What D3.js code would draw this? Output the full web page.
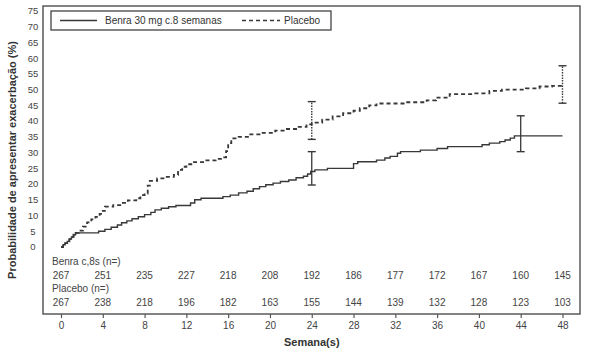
<!DOCTYPE html>
<html>
<head>
<meta charset="utf-8">
<script src="https://cdn.jsdelivr.net/npm/d3@7/dist/d3.min.js"></script>
<style>
  html, body { margin: 0; padding: 0; background: #fff; }
  svg { display: block; font-family: "Liberation Sans", Arial, sans-serif; }
</style>
</head>
<body>
<svg id="chart" width="589" height="350"></svg>
<script>
// Kaplan-Meier style cumulative probability of exacerbation (%), step points [week, %]
const benraSteps = [
  [0, 0], [0.2, 0.7], [0.4, 1.2], [0.6, 1.8], [0.8, 2.5], [1.0, 3.2], [1.2, 3.9], [1.4, 4.5],
  [3.6, 5.0], [4.2, 5.6], [4.8, 6.3], [5.4, 7.0], [5.8, 7.7], [6.3, 8.3], [6.8, 9.0], [7.4, 9.6],
  [8.0, 10.3], [8.6, 11.0], [9.0, 11.8], [9.6, 12.3], [10.3, 12.8], [11.0, 13.2], [12.4, 14.0],
  [12.8, 15.0], [13.4, 15.5], [15.5, 16.0], [16.2, 16.5], [17.0, 17.2], [17.8, 17.7], [18.4, 18.5],
  [19.0, 19.2], [19.6, 19.8], [20.3, 20.3], [21.0, 20.8], [21.8, 21.3], [22.5, 22.0], [23.2, 22.5],
  [23.6, 23.2], [23.9, 24.0], [24.3, 24.5], [25.5, 25.0], [28.0, 26.5], [28.4, 27.1], [30.2, 27.6],
  [31.0, 28.3], [31.5, 28.8], [32.2, 29.8], [32.5, 30.3], [34.4, 30.8], [36.0, 31.3], [37.0, 31.9],
  [40.3, 32.5], [41.0, 33.0], [42.0, 33.5], [42.5, 34.0], [43.0, 34.6], [43.4, 35.3], [48, 35.3]
];
const placeboSteps = [
  [0, 0], [0.2, 0.7], [0.4, 1.2], [0.6, 1.8], [0.8, 2.5], [1.0, 3.2], [1.2, 3.9], [1.4, 4.5],
  [1.7, 5.2], [2.1, 6.5], [2.5, 7.8], [2.9, 8.8], [3.3, 9.6], [3.7, 10.5], [4.0, 11.5], [4.2, 12.8],
  [5.0, 13.3], [5.8, 14.0], [6.4, 14.8], [7.2, 15.5], [7.6, 16.5], [8.0, 17.0], [8.3, 19.5],
  [8.5, 21.0], [9.2, 21.8], [10.0, 22.3], [10.8, 22.9], [11.2, 24.5], [11.6, 25.5], [12.0, 26.3],
  [12.6, 27.0], [13.8, 27.5], [14.8, 28.0], [15.4, 28.5], [15.8, 30.5], [16.0, 33.0], [16.3, 34.5],
  [17.0, 35.0], [18.0, 35.8], [19.0, 36.3], [20.5, 37.0], [21.5, 37.5], [22.5, 38.2], [23.5, 39.0],
  [24.0, 39.5], [25.0, 40.5], [26.0, 41.5], [27.0, 42.5], [28.0, 43.3], [28.6, 44.1], [29.5, 45.0],
  [30.2, 45.6], [33.0, 46.0], [35.0, 46.6], [35.9, 47.5], [37.2, 48.6], [39.5, 48.8], [41.0, 49.6],
  [42.2, 50.0], [44.5, 50.4], [45.8, 51.0], [47.0, 51.2], [48, 51.2]
];

// 95% confidence intervals at selected weeks: [week, estimate, lower, upper]
const benraCI = [[24, 24.5, 19.7, 30.3], [44, 35.3, 30.3, 41.7]];
const placeboCI = [[24, 39.6, 34.2, 46.2], [48, 51.2, 45.7, 57.6]];

// Number at risk
const riskWeeks = [0, 4, 8, 12, 16, 20, 24, 28, 32, 36, 40, 44, 48];
const benraAtRisk = [267, 251, 235, 227, 218, 208, 192, 186, 177, 172, 167, 160, 145];
const placeboAtRisk = [267, 238, 218, 196, 182, 163, 155, 144, 139, 132, 128, 123, 103];

const xTicks = [0, 4, 8, 12, 16, 20, 24, 28, 32, 36, 40, 44, 48];
const yTicks = [0, 5, 10, 15, 20, 25, 30, 35, 40, 45, 50, 55, 60, 65, 70, 75];

const labels = {
  benra: "Benra 30 mg c.8 semanas",
  placebo: "Placebo",
  benraRisk: "Benra c,8s (n=)",
  placeboRisk: "Placebo (n=)",
  xTitle: "Semana(s)",
  yTitle: "Probabilidade de apresentar exacerbação (%)"
};

const svg = d3.select("#chart");
const frame = { left: 43, right: 580, top: 6, bottom: 314 };

const x = d3.scaleLinear().domain([0, 48]).range([61, 562.5]);
const y = d3.scaleLinear().domain([0, 75]).range([247, 11]);

const ink = "#383838";
const textInk = "#444";

// Plot frame
svg.append("rect")
  .attr("x", frame.left).attr("y", frame.top)
  .attr("width", frame.right - frame.left).attr("height", frame.bottom - frame.top)
  .attr("fill", "none").attr("stroke", "#5a5a5a").attr("stroke-width", 1.5);

// Y tick labels (no tick marks)
svg.append("g").selectAll("text").data(yTicks).join("text")
  .attr("x", 33).attr("y", d => y(d)).attr("dy", "0.35em")
  .attr("text-anchor", "middle").attr("font-size", 9.5).attr("fill", textInk)
  .text(d => d);

// X axis below the frame
const xAxis = d3.axisBottom(x).tickValues(xTicks).tickSize(4).tickPadding(4).tickSizeOuter(0);
const gx = svg.append("g").attr("transform", `translate(0,${frame.bottom})`).call(xAxis);
gx.select(".domain").remove();
gx.selectAll(".tick line").attr("stroke", "#555").attr("stroke-width", 1.2);
gx.selectAll(".tick text").attr("font-size", 10).attr("fill", textInk)
  .attr("font-family", "Liberation Sans, Arial, sans-serif");

// Axis titles
svg.append("text").attr("x", x(24)).attr("y", 346)
  .attr("text-anchor", "middle").attr("font-size", 11).attr("font-weight", "bold").attr("fill", "#333")
  .text(labels.xTitle);
svg.append("text")
  .attr("transform", `translate(16,${160}) rotate(-90)`)
  .attr("text-anchor", "middle").attr("font-size", 11).attr("font-weight", "bold").attr("fill", "#333")
  .text(labels.yTitle);

// Curves
const line = d3.line().x(d => x(d[0])).y(d => y(d[1])).curve(d3.curveStepAfter);
svg.append("path").datum(placeboSteps).attr("d", line)
  .attr("fill", "none").attr("stroke", ink).attr("stroke-width", 1.8)
  .attr("stroke-dasharray", "4,3");
svg.append("path").datum(benraSteps).attr("d", line)
  .attr("fill", "none").attr("stroke", ink).attr("stroke-width", 1.4);

// Confidence interval bars
function drawCI(data, dashed) {
  const g = svg.append("g").attr("stroke", ink);
  data.forEach(([wk, est, lo, hi]) => {
    g.append("line").attr("x1", x(wk)).attr("x2", x(wk)).attr("y1", y(lo)).attr("y2", y(hi))
      .attr("stroke-width", dashed ? 1.4 : 1.3)
      .attr("stroke-dasharray", dashed ? "1.5,1.2" : null);
    [lo, hi].forEach(v => {
      g.append("line").attr("x1", x(wk) - 4).attr("x2", x(wk) + 4)
        .attr("y1", y(v)).attr("y2", y(v)).attr("stroke-width", 1.4);
    });
  });
}
drawCI(benraCI, false);
drawCI(placeboCI, true);

// Legend
const lg = svg.append("g");
lg.append("rect").attr("x", 51).attr("y", 11).attr("width", 280).attr("height", 19)
  .attr("fill", "#fff").attr("stroke", "#444").attr("stroke-width", 1.3);
lg.append("line").attr("x1", 60).attr("x2", 97).attr("y1", 20.5).attr("y2", 20.5)
  .attr("stroke", ink).attr("stroke-width", 1.4);
lg.append("text").attr("x", 105).attr("y", 20.5).attr("dy", "0.35em")
  .attr("font-size", 10).attr("fill", "#333").text(labels.benra);
lg.append("line").attr("x1", 242).attr("x2", 280).attr("y1", 20.5).attr("y2", 20.5)
  .attr("stroke", ink).attr("stroke-width", 1.4).attr("stroke-dasharray", "4,3");
lg.append("text").attr("x", 284).attr("y", 20.5).attr("dy", "0.35em")
  .attr("font-size", 10).attr("fill", "#333").text(labels.placebo);

// Number-at-risk table
const rt = svg.append("g").attr("font-size", 10).attr("fill", textInk);
rt.append("text").attr("x", 52).attr("y", 261).attr("dy", "0.35em").text(labels.benraRisk);
rt.append("text").attr("x", 52).attr("y", 288).attr("dy", "0.35em").text(labels.placeboRisk);
rt.selectAll(".rb").data(benraAtRisk).join("text").attr("class", "rb")
  .attr("x", (d, i) => x(riskWeeks[i])).attr("y", 275).attr("dy", "0.35em")
  .attr("text-anchor", "middle").text(d => d);
rt.selectAll(".rp").data(placeboAtRisk).join("text").attr("class", "rp")
  .attr("x", (d, i) => x(riskWeeks[i])).attr("y", 302).attr("dy", "0.35em")
  .attr("text-anchor", "middle").text(d => d);
</script>
</body>
</html>
